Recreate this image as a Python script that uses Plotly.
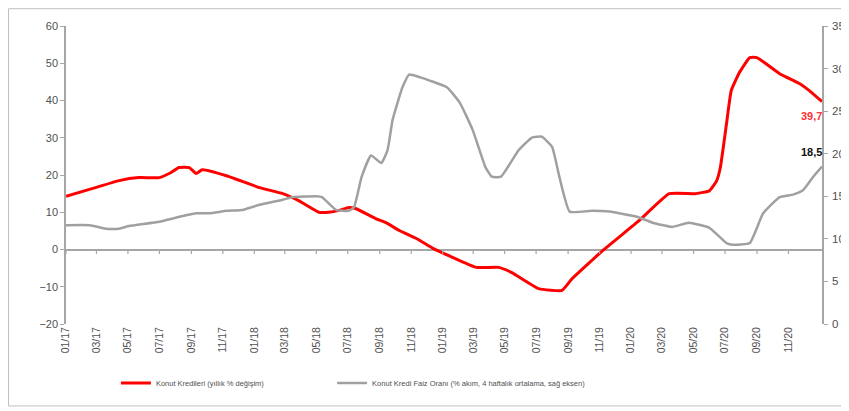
import plotly.graph_objects as go

# Konut Kredileri (yıllık % değişim) - left axis
red_dates = ["2017-01-01", "2017-02-22", "2017-04-14", "2017-05-22", "2017-07-01", "2017-07-20",
             "2017-08-08", "2017-08-28", "2017-09-10", "2017-09-22", "2017-11-08", "2018-01-11",
             "2018-02-25", "2018-03-28", "2018-05-06", "2018-05-25", "2018-06-14", "2018-07-03",
             "2018-07-16", "2018-08-24", "2018-09-13", "2018-10-09", "2018-11-12", "2018-12-13",
             "2019-01-15", "2019-03-07", "2019-04-19", "2019-05-15", "2019-07-06", "2019-08-20",
             "2019-09-09", "2019-11-07", "2020-01-17", "2020-03-15", "2020-05-06", "2020-06-01",
             "2020-06-15", "2020-06-22", "2020-07-04", "2020-07-13", "2020-07-29", "2020-08-18",
             "2020-09-01", "2020-10-15", "2020-11-23", "2020-12-12", "2021-01-05"]
red_values = [14.3, 16.4, 18.5, 19.3, 19.3, 20.4,
              22.0, 22.0, 20.4, 21.4, 19.8, 16.6,
              15.0, 13.1, 10.0, 10.0, 10.5, 11.3,
              11.0, 8.3, 7.2, 5.1, 2.9, 0.3,
              -1.8, -4.8, -4.8, -6.2, -10.5, -11.0,
              -7.8, -0.3, 7.8, 15.0, 15.0, 15.8,
              18.5, 22.0, 33.8, 42.6, 47.5, 51.5,
              51.5, 47.2, 44.5, 42.6, 39.7]

# Konut Kredi Faiz Oranı (% akım, 4 haftalık ortalama, sağ eksen) - right axis
gray_dates = ["2017-01-01", "2017-02-16", "2017-03-19", "2017-04-14", "2017-05-03", "2017-07-01",
              "2017-08-03", "2017-09-10", "2017-10-06", "2017-11-08", "2017-12-09", "2018-01-11",
              "2018-02-25", "2018-03-15", "2018-05-01", "2018-05-12", "2018-06-08", "2018-07-03",
              "2018-07-13", "2018-07-28", "2018-08-15", "2018-09-04", "2018-09-16", "2018-09-26",
              "2018-10-15", "2018-10-28", "2018-11-17", "2019-01-09", "2019-02-03", "2019-02-28",
              "2019-03-25", "2019-04-06", "2019-04-24", "2019-05-28", "2019-06-23", "2019-07-12",
              "2019-08-01", "2019-08-15", "2019-09-04", "2019-10-18", "2019-11-20", "2020-01-12",
              "2020-02-12", "2020-03-20", "2020-04-22", "2020-06-01", "2020-07-04", "2020-07-16",
              "2020-08-18", "2020-09-13", "2020-10-15", "2020-11-10", "2020-11-29", "2020-12-19",
              "2021-01-05"]
gray_values = [11.6, 11.6, 11.2, 11.2, 11.5, 12.0,
               12.5, 13.0, 13.0, 13.3, 13.4, 14.0,
               14.6, 14.9, 15.0, 14.9, 13.4, 13.3,
               13.7, 17.3, 19.8, 18.9, 20.4, 24.0,
               27.8, 29.3, 29.0, 27.8, 26.0, 22.8,
               18.4, 17.3, 17.3, 20.4, 21.9, 22.0,
               20.8, 17.3, 13.2, 13.3, 13.2, 12.6,
               11.9, 11.4, 11.9, 11.3, 9.5, 9.3,
               9.5, 13.0, 14.9, 15.2, 15.7, 17.3,
               18.5]

tick_dates = ["2017-01-01", "2017-03-01", "2017-05-01", "2017-07-01", "2017-09-01", "2017-11-01",
              "2018-01-01", "2018-03-01", "2018-05-01", "2018-07-01", "2018-09-01", "2018-11-01",
              "2019-01-01", "2019-03-01", "2019-05-01", "2019-07-01", "2019-09-01", "2019-11-01",
              "2020-01-01", "2020-03-01", "2020-05-01", "2020-07-01", "2020-09-01", "2020-11-01"]
tick_labels = ["01/17", "03/17", "05/17", "07/17", "09/17", "11/17",
               "01/18", "03/18", "05/18", "07/18", "09/18", "11/18",
               "01/19", "03/19", "05/19", "07/19", "09/19", "11/19",
               "01/20", "03/20", "05/20", "07/20", "09/20", "11/20"]

red_name = "Konut Kredileri (yıllık % değişim)"
gray_name = "Konut Kredi Faiz Oranı (% akım, 4 haftalık ortalama, sağ eksen)"

AXIS_GRAY = "#A6A6A6"
TEXT_GRAY = "#505050"
FONT = "Liberation Sans"

fig = go.Figure()
fig.add_trace(go.Scatter(x=red_dates, y=red_values, name=red_name, mode="lines",
                         line=dict(color="#FF0000", width=3, shape="spline", smoothing=0.4),
                         yaxis="y", legend="legend"))
fig.add_trace(go.Scatter(x=gray_dates, y=gray_values, name=gray_name, mode="lines",
                         line=dict(color="#A0A0A0", width=2.5, shape="spline", smoothing=0.4),
                         yaxis="y2", legend="legend2"))

# tick marks along the zero line
shapes = []
for d in tick_dates:
    shapes.append(dict(type="line", xref="x", yref="y", x0=d, x1=d, y0=0, y1=-1.2,
                       line=dict(color=AXIS_GRAY, width=1.2)))
# outer frame
shapes.append(dict(type="rect", xref="paper", yref="paper", x0=-0.076, x1=1.034, y0=-0.275, y1=1.058,
                   line=dict(color="#BFBFBF", width=1), layer="below"))

fig.add_annotation(x=red_dates[-1], y=red_values[-1], xref="x", yref="y",
                   text=f"<b>{red_values[-1]:.1f}</b>".replace(".", ","), showarrow=False,
                   xanchor="right", yanchor="top", yshift=-6, xshift=2,
                   font=dict(family=FONT, size=11, color="#FF3333"))
fig.add_annotation(x=gray_dates[-1], y=gray_values[-1], xref="x", yref="y2",
                   text=f"<b>{gray_values[-1]:.1f}</b>".replace(".", ","), showarrow=False,
                   xanchor="right", yanchor="bottom", yshift=6, xshift=2,
                   font=dict(family=FONT, size=11, color="#111111"))

legend_font = dict(family=FONT, size=7.5, color=TEXT_GRAY)
fig.update_layout(
    width=841, height=403,
    margin=dict(l=58, r=27, t=18, b=87, autoexpand=False),
    paper_bgcolor="white", plot_bgcolor="white",
    showlegend=True,
    legend=dict(orientation="h", x=0.066, y=-0.198, xanchor="left", yanchor="middle",
                font=legend_font, bgcolor="rgba(0,0,0,0)"),
    legend2=dict(orientation="h", x=0.352, y=-0.198, xanchor="left", yanchor="middle",
                 font=legend_font, bgcolor="rgba(0,0,0,0)"),
    xaxis=dict(type="date", range=["2017-01-01", "2021-01-05"],
               tickmode="array", tickvals=tick_dates, ticktext=tick_labels,
               tickangle=-90, showgrid=False, showline=False, zeroline=False, ticks="",
               automargin=False,
               tickfont=dict(family=FONT, size=10.5, color=TEXT_GRAY)),
    yaxis=dict(range=[-20, 60], dtick=10, showgrid=False, showline=True, linecolor=AXIS_GRAY,
               linewidth=1.5, ticks="outside", ticklen=4, tickcolor=AXIS_GRAY,
               zeroline=True, zerolinecolor=AXIS_GRAY, zerolinewidth=2, automargin=False,
               tickfont=dict(family=FONT, size=11, color=TEXT_GRAY)),
    yaxis2=dict(range=[0, 35], dtick=5, overlaying="y", side="right", showgrid=False,
                showline=True, linecolor=AXIS_GRAY, linewidth=1.5, ticks="outside", ticklen=4,
                tickcolor=AXIS_GRAY, zeroline=False, ticklabelstandoff=2, automargin=False,
                tickfont=dict(family=FONT, size=11.5, color=TEXT_GRAY)),
    shapes=shapes,
)

fig.write_html("out.html")
